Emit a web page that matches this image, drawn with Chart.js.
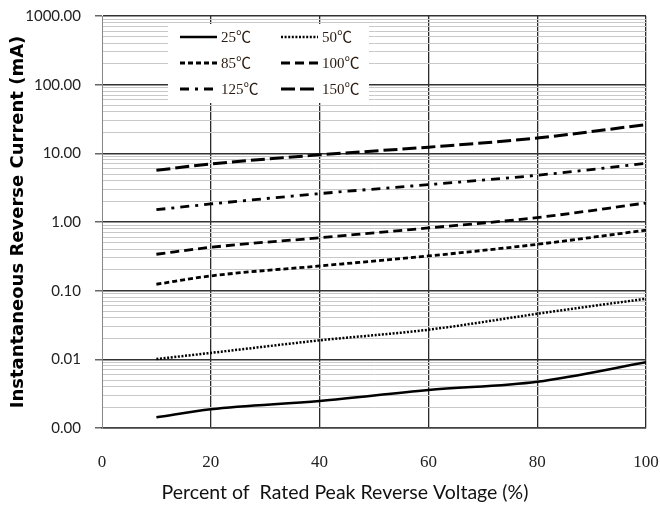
<!DOCTYPE html>
<html>
<head>
<meta charset="utf-8">
<script src="https://cdn.jsdelivr.net/npm/chart.js@4/dist/chart.umd.min.js"></script>
<style>
  html, body { margin: 0; padding: 0; background: #fff; }
  #wrap { width: 660px; height: 507px; }
</style>
</head>
<body>
<div id="wrap"><canvas id="myChart" width="660" height="507"></canvas></div>
<script>
// percent of rated peak reverse voltage
const voltage = [10, 20, 40, 60, 80, 100];

// reverse current (mA), one array per temperature
const i25 = [0.00143, 0.00187, 0.00247, 0.00357, 0.00472, 0.00904];
const i50 = [0.0101, 0.0124, 0.0189, 0.027, 0.046, 0.0765];
const i85 = [0.124, 0.164, 0.229, 0.32, 0.473, 0.76];
const i100 = [0.339, 0.428, 0.59, 0.82, 1.16, 1.89];
const i125 = [1.51, 1.83, 2.59, 3.5, 4.79, 7.15];
const i150 = [5.66, 7.0, 9.5, 12.3, 16.7, 26.2];

const seriesLabels = ["25℃", "50℃", "85℃", "100℃", "125℃", "150℃"];
const seriesValues = [i25, i50, i85, i100, i125, i150];
const dashes = [[], [2, 1.6], [5, 3], [9, 5], [9, 6, 3, 6], [14, 5]];
const widths = [2.5, 2.5, 2.8, 2.8, 2.8, 3];

const yMin = 0.001;
const yMax = 1000;

const isMajor = (v) => Math.abs(Math.log10(v) - Math.round(Math.log10(v))) < 1e-6;

const datasets = seriesValues.map((vals, i) => ({
    label: seriesLabels[i],
    data: vals.map((v, j) => ({ x: voltage[j], y: v })),
    borderColor: "#000",
    borderWidth: widths[i],
    borderDash: dashes[i],
    pointRadius: 0,
    fill: false,
    tension: 0.4,
    cubicInterpolationMode: "monotone",
}));

// legend box + x title drawn on top of the grid
const extras = {
    id: "extras",
    afterDraw(chart) {
        const c = chart.ctx;
        c.save();
        c.fillStyle = "#fff";
        c.fillRect(168, 24, 201, 79);
        chart.data.datasets.forEach((ds, i) => {
            const col = i % 2;
            const row = Math.floor(i / 2);
            const x0 = col ? 281 : 180;
            const y = 37 + row * 26;
            c.beginPath();
            c.setLineDash(ds.borderDash);
            c.lineWidth = ds.borderWidth;
            c.strokeStyle = "#000";
            c.moveTo(x0, y);
            c.lineTo(x0 + 37, y);
            c.stroke();
            c.setLineDash([]);
            c.fillStyle = "#2a1a10";
            c.font = '15px "Liberation Serif", "Noto Sans CJK SC", serif';
            c.textBaseline = "middle";
            c.textAlign = "left";
            c.fillText(ds.label, x0 + 41, y + 1);
        });
        c.fillStyle = "#111";
        c.font = '19.5px Lato, sans-serif';
        c.textAlign = "center";
        c.textBaseline = "alphabetic";
        c.fillText("Percent of  Rated Peak Reverse Voltage (%)", 345, 499);
        c.restore();
    },
};

const config = {
    type: "line",
    data: { datasets },
    options: {
        responsive: false,
        animation: false,
        devicePixelRatio: 1,
        layout: { padding: { top: 16, right: 14, left: 0, bottom: 0 } },
        plugins: {
            legend: { display: false },
            tooltip: { enabled: false },
        },
        scales: {
            x: {
                type: "linear",
                min: 0,
                max: 100,
                afterFit: (scale) => {
                    scale.height = 79;
                    scale.paddingLeft = 0;
                    scale.paddingRight = 0;
                },
                ticks: {
                    stepSize: 20,
                    padding: 24,
                    color: "#222",
                    font: { family: '"Liberation Serif", serif', size: 17 },
                },
                grid: {
                    drawTicks: false,
                    color: (ctx) => (ctx.tick && ctx.tick.value === 0 ? "rgba(0,0,0,0)" : "#2a2a2a"),
                    lineWidth: 1.3,
                },
                border: { color: "#444", width: 1.5 },
            },
            y: {
                type: "logarithmic",
                min: yMin,
                max: yMax,
                afterFit: (scale) => {
                    scale.width = 102;
                    scale.paddingTop = 0;
                    scale.paddingBottom = 0;
                },
                afterBuildTicks: (scale) => {
                    const t = [];
                    for (let e = -3; e < 3; e++) {
                        for (let m = 1; m < 10; m++) t.push({ value: m * Math.pow(10, e) });
                    }
                    t.push({ value: yMax });
                    scale.ticks = t;
                },
                title: {
                    display: true,
                    text: "Instantaneous Reverse Current (mA)",
                    color: "#000",
                    font: { family: '"DejaVu Sans", sans-serif', size: 18, weight: "bold" },
                    padding: { top: 8, bottom: 0 },
                },
                ticks: {
                    autoSkip: false,
                    padding: 14,
                    color: "#222",
                    font: { family: "Lato, sans-serif", size: 15 },
                    callback: (v) => (isMajor(v) ? Number(v).toFixed(2) : ""),
                },
                grid: {
                    tickLength: 7,
                    color: (ctx) => (isMajor(ctx.tick.value) ? "#333" : "#c8c8c8"),
                    lineWidth: (ctx) => (isMajor(ctx.tick.value) ? 1.5 : 1),
                    tickColor: (ctx) => (isMajor(ctx.tick.value) ? "#666" : "rgba(0,0,0,0)"),
                },
                border: { color: "#888", width: 1 },
            },
        },
    },
    plugins: [extras],
};

const ctx = document.getElementById("myChart").getContext("2d");
const chart = new Chart(ctx, config);
</script>
</body>
</html>
